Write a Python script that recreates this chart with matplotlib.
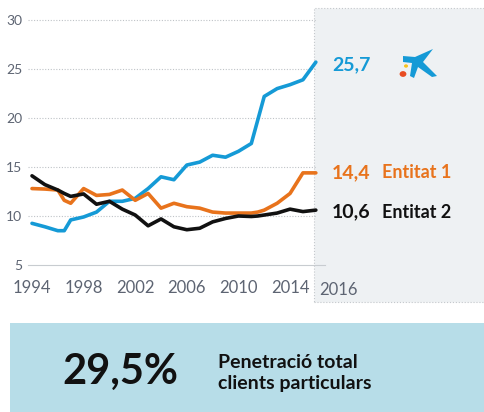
import matplotlib.pyplot as plt
from matplotlib.patches import Rectangle, Circle, Polygon

plt.rcParams['font.family'] = ['Lato', 'DejaVu Sans']

# ───────────────────────────────────────────────
# data
years = [1994, 1995, 1996, 1996.5, 1997, 1998, 1999, 2000, 2001, 2002, 2003, 2004,
         2005, 2006, 2007, 2008, 2009, 2010, 2011, 2011.5, 2012, 2013, 2014, 2015, 2016]
caixabank = [9.25, 8.9, 8.5, 8.5, 9.6, 9.9, 10.4, 11.5, 11.5, 11.8, 12.8, 14.0,
             13.7, 15.2, 15.5, 16.2, 16.0, 16.6, 17.4, 19.8, 22.2, 23.0, 23.4, 23.9, 25.7]
entitat1 = [12.8, 12.75, 12.65, 11.6, 11.3, 12.8, 12.1, 12.2, 12.65, 11.6, 12.3, 10.8,
            11.3, 10.95, 10.8, 10.4, 10.3, 10.3, 10.3, 10.4, 10.6, 11.3, 12.3, 14.4, 14.4]
entitat2 = [14.1, 13.2, 12.65, 12.3, 12.0, 12.25, 11.2, 11.5, 10.7, 10.1, 9.0, 9.7,
            8.9, 8.6, 8.75, 9.4, 9.75, 10.0, 9.95, 10.0, 10.1, 10.3, 10.7, 10.45, 10.6]

xticks = [1994, 1998, 2002, 2006, 2010, 2014]
yticks = [5, 10, 15, 20, 25, 30]
end_labels = ["25,7", "14,4", "10,6"]
names = ["", "Entitat 1", "Entitat 2"]
colors = ["#159ad6", "#e8731c", "#111111"]
total_value = "29,5%"
total_text = "Penetració total\nclients particulars"

W, H = 484, 412
fig = plt.figure(figsize=(W / 100, H / 100), dpi=100)

# grey panel at the right
fig.patches.append(Rectangle((314 / W, (H - 302) / H), 172 / W, 294 / H,
                             transform=fig.transFigure, facecolor="#eef1f3",
                             edgecolor="#c4c8cc", linestyle=":", linewidth=0.8, zorder=0))

# bottom box
fig.patches.append(Rectangle((10 / W, 0), (W - 10) / W, (H - 323) / H,
                             transform=fig.transFigure, facecolor="#b7dde8",
                             edgecolor="none", zorder=0))

ax = fig.add_axes([28 / W, (H - 265) / H, 297 / W, 255 / H])
ax.set_zorder(2)
ax.patch.set_alpha(0)
ax.set_xlim(1993.69, 2016.71)
ax.set_ylim(5, 31.02)

for v in yticks[1:]:
    ax.hlines(v, 1993.69, 2016, colors="#bfc3c7", linestyles=(0, (1, 1.5)), linewidth=0.8)

for vals, c in zip([caixabank, entitat1, entitat2], colors):
    ax.plot(years, vals, color=c, linewidth=2.6, solid_joinstyle="round",
            solid_capstyle="round", clip_on=False, zorder=3)

for s in ["top", "right", "left"]:
    ax.spines[s].set_visible(False)
ax.spines["bottom"].set_color("#c8ccd0")
ax.set_xticks(xticks)
ax.set_yticks(yticks)
ax.tick_params(axis="both", length=0, colors="#5d6472")
ax.tick_params(axis="x", labelsize=12, pad=11)
ax.tick_params(axis="y", labelsize=10, pad=4)
fig.text(338 / W, 1 - 290 / H, "2016", ha="center", va="center",
         fontsize=12, color="#5d6472")

# end labels
label_y = [65, 173, 212]
for lab, nm, c, py in zip(end_labels, names, colors, label_y):
    fig.text(332 / W, 1 - py / H, lab, ha="left", va="center", fontsize=14,
             fontweight="bold", color=c)
    if nm:
        fig.text(382 / W, 1 - py / H, nm, ha="left", va="center", fontsize=13,
                 fontweight="bold", color=c)

# logo (stylised star with dots)
star = [(403, 56), (415, 57), (433, 49), (423, 62), (437, 76), (432, 77),
        (418, 67), (414, 78), (410, 76), (412, 63), (403, 62)]
fig.patches.append(Polygon([(x / W, 1 - y / H) for x, y in star], closed=True,
                           transform=fig.transFigure, facecolor="#159ad6", edgecolor="none"))
fig.patches.append(Circle((403 / W, 1 - 74 / H), 3.4 / W, transform=fig.transFigure,
                          facecolor="#e84c22", edgecolor="none"))
fig.patches.append(Circle((406 / W, 1 - 66 / H), 2 / W, transform=fig.transFigure,
                          facecolor="#f7c21a", edgecolor="none"))

fig.text(120 / W, 1 - 372 / H, total_value, ha="center", va="center", fontsize=30,
         fontweight="bold", color="#111111")
fig.text(218 / W, 1 - 373 / H, total_text, ha="left", va="center", fontsize=14,
         fontweight="bold", color="#111111", linespacing=1.3)

fig.savefig("out.png", dpi=100)
